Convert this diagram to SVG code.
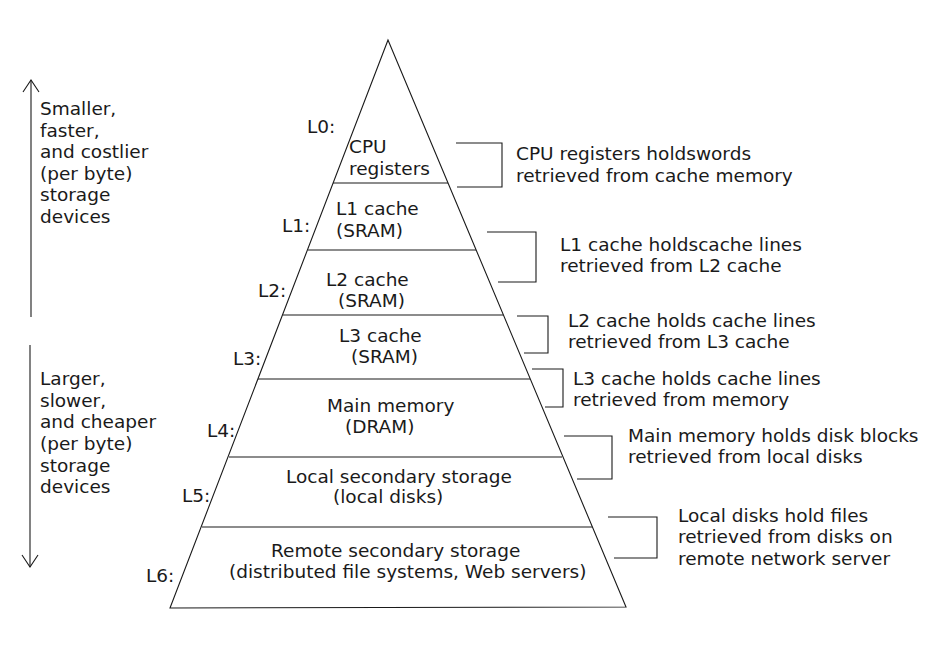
<svg xmlns="http://www.w3.org/2000/svg" width="941" height="651" viewBox="0 0 941 651">
<defs>
<style>
text{font-family:"DejaVu Sans","Liberation Sans",sans-serif;font-size:18.5px;fill:#1a1a1a}
.ln{stroke:#1a1a1a;stroke-width:1.1;fill:none}
</style>
<marker id="open" viewBox="-14 -10 16 20" refX="0" refY="0" markerWidth="16" markerHeight="20" markerUnits="userSpaceOnUse" orient="auto">
<path d="M-12,-8 L0,0 L-12,8" fill="none" stroke="#1a1a1a" stroke-width="1.1"/>
</marker>
</defs>
<rect width="941" height="651" fill="#fff"/>

<g id="pyramid">
<path class="ln" d="M388,40 L170,608 L626,607 Z"/>
</g>

<g id="L0">
<text x="307" y="133">L0:</text>
<text x="349" y="153">CPU</text>
<text x="349" y="175">registers</text>
</g>
<g id="L1">
<line class="ln" x1="333" y1="183" x2="448" y2="183"/>
<text x="282" y="232">L1:</text>
<text x="336" y="215">L1 cache</text>
<text x="336" y="237">(SRAM)</text>
</g>
<g id="L2">
<line class="ln" x1="308" y1="250" x2="476" y2="250"/>
<text x="258" y="297">L2:</text>
<text x="326" y="286">L2 cache</text>
<text x="338" y="307">(SRAM)</text>
</g>
<g id="L3">
<line class="ln" x1="283" y1="315" x2="503" y2="315"/>
<text x="233" y="365">L3:</text>
<text x="339" y="342">L3 cache</text>
<text x="351" y="363">(SRAM)</text>
</g>
<g id="L4">
<line class="ln" x1="258" y1="379" x2="530" y2="379"/>
<text x="207" y="437">L4:</text>
<text x="327" y="412">Main memory</text>
<text x="345" y="433">(DRAM)</text>
</g>
<g id="L5">
<line class="ln" x1="229" y1="457" x2="562" y2="457"/>
<text x="182" y="502">L5:</text>
<text x="286" y="483">Local secondary storage</text>
<text x="333" y="503">(local disks)</text>
</g>
<g id="L6">
<line class="ln" x1="202" y1="527" x2="592" y2="527"/>
<text x="146" y="582">L6:</text>
<text x="271" y="557">Remote secondary storage</text>
<text x="229" y="578">(distributed file systems, Web servers)</text>
</g>

<g id="side-up">
<text x="40" y="115">Smaller,</text>
<text x="40" y="137">faster,</text>
<text x="40" y="158">and costlier</text>
<text x="40" y="180">(per byte)</text>
<text x="40" y="201">storage</text>
<text x="40" y="223">devices</text>
</g>
<g id="side-down">
<text x="40" y="385">Larger,</text>
<text x="40" y="407">slower,</text>
<text x="40" y="428">and cheaper</text>
<text x="40" y="450">(per byte)</text>
<text x="40" y="472">storage</text>
<text x="40" y="493">devices</text>
</g>

<g id="note0">
<text x="516" y="160">CPU registers holdswords</text>
<text x="516" y="182">retrieved from cache memory</text>
</g>
<g id="note1">
<text x="560" y="251">L1 cache holdscache lines</text>
<text x="560" y="272">retrieved from L2 cache</text>
</g>
<g id="note2">
<text x="568" y="327">L2 cache holds cache lines</text>
<text x="568" y="348">retrieved from L3 cache</text>
</g>
<g id="note3">
<text x="573" y="385">L3 cache holds cache lines</text>
<text x="573" y="406">retrieved from memory</text>
</g>
<g id="note4">
<text x="628" y="442">Main memory holds disk blocks</text>
<text x="628" y="463">retrieved from local disks</text>
</g>
<g id="note5">
<text x="678" y="522">Local disks hold files</text>
<text x="678" y="543">retrieved from disks on</text>
<text x="678" y="565">remote network server</text>
</g>

<g id="connectors">
<line class="ln" x1="31" y1="317" x2="31" y2="80" marker-end="url(#open)"/>
<line class="ln" x1="30" y1="345" x2="30" y2="567" marker-end="url(#open)"/>
<path class="ln" d="M456,143 H502 V187 H457"/>
<path class="ln" d="M487,232 H536 V282 H498"/>
<path class="ln" d="M517,316 H548 V353 H524"/>
<path class="ln" d="M532,369 H563 V407 H545"/>
<path class="ln" d="M564,436 H612 V479 H577"/>
<path class="ln" d="M608,517 H657 V558 H614"/>
</g>
</svg>
